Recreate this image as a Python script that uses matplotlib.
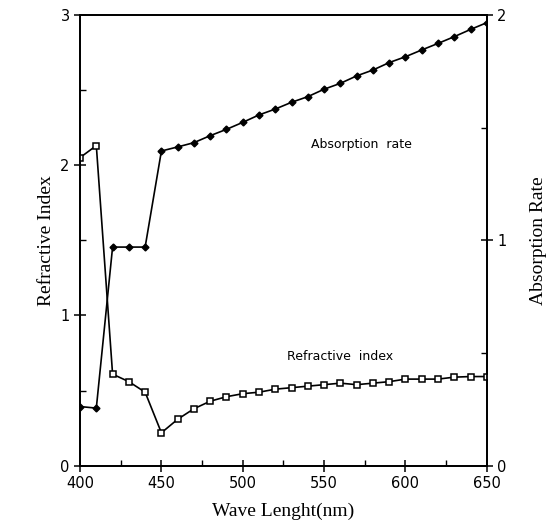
import matplotlib
matplotlib.use("Agg")
from matplotlib import pyplot as plt
from matplotlib.ticker import MultipleLocator

# wavelength (nm)
wave = [400, 410, 420, 430, 440, 450, 460, 470, 480, 490, 500, 510, 520, 530,
        540, 550, 560, 570, 580, 590, 600, 610, 620, 630, 640, 650]

# refractive index (left axis)
refr = [2.05, 2.13, 0.61, 0.56, 0.49, 0.22, 0.31, 0.38, 0.43, 0.46, 0.48, 0.49,
        0.51, 0.52, 0.53, 0.54, 0.55, 0.54, 0.55, 0.56, 0.577, 0.577, 0.577,
        0.59, 0.594, 0.594]

# absorption rate (right axis)
absorb = [0.263, 0.256, 0.97, 0.97, 0.97, 1.396, 1.414, 1.433, 1.464, 1.492,
          1.523, 1.556, 1.582, 1.612, 1.637, 1.670, 1.696, 1.729, 1.755, 1.788,
          1.814, 1.844, 1.873, 1.903, 1.935, 1.965]

fig = plt.figure(figsize=(5.52, 5.27), dpi=100)
ax = fig.add_axes([0.145, 0.116, 0.737, 0.856])
ax2 = ax.twinx()

ax.plot(wave, refr, c='black', lw=1.2, marker='s', ms=5,
        mfc='white', mec='black', mew=1.1, zorder=3)
ax2.plot(wave, absorb, c='black', lw=1.2, marker='D', ms=3.5,
         mfc='black', mec='black', zorder=3)

ax.set_xlim(400, 650)
ax.set_ylim(0, 3)
ax2.set_ylim(0, 2)

ax.set_xticks([400, 450, 500, 550, 600, 650])
ax.xaxis.set_minor_locator(MultipleLocator(25))
ax.yaxis.set_major_locator(MultipleLocator(1))
ax.yaxis.set_minor_locator(MultipleLocator(0.5))
ax2.yaxis.set_major_locator(MultipleLocator(1))
ax2.yaxis.set_minor_locator(MultipleLocator(0.5))

for a in (ax, ax2):
    a.tick_params(which='major', direction='inout', length=8, width=1.1,
                  labelsize=10.5)
    a.tick_params(which='minor', direction='in', length=4, width=1)
    for s in a.spines.values():
        s.set_linewidth(1.3)

ax.set_xlabel('Wave Lenght(nm)', fontsize=14, family='Liberation Serif',
              labelpad=8)
ax.set_ylabel('Refractive Index', fontsize=14, family='Liberation Serif',
              labelpad=4)
ax2.set_ylabel('Absorption Rate', fontsize=14, family='Liberation Serif',
               labelpad=17)

ax.text(573, 2.14, 'Absorption  rate', fontsize=9, ha='center', va='center')
ax.text(560, 0.727, 'Refractive  index', fontsize=9, ha='center', va='center')

plt.savefig('out.png', dpi=100)
